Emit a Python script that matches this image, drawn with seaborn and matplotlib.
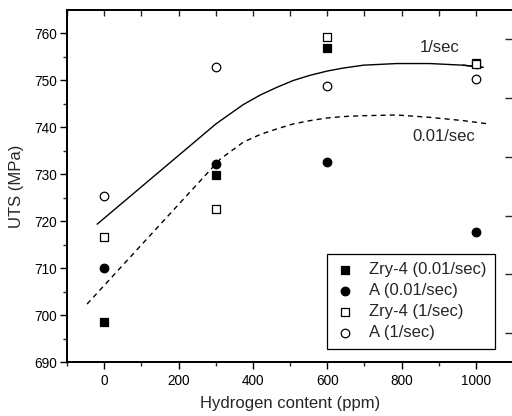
import matplotlib
matplotlib.use("Agg")
import matplotlib.pyplot as plt
import seaborn as sns
import pandas as pd
import numpy as np

# ---- data ----
hydrogen = [0, 300, 600, 1000]
zry4_slow = [698.5, 729.9, 757.0, 753.7]
a_slow = [710.0, 732.3, 732.6, 717.8]
zry4_fast = [716.6, 722.7, 759.3, 753.5]
a_fast = [725.5, 752.8, 748.9, 750.4]
series_names = ["Zry-4 (0.01/sec)", "A (0.01/sec)", "Zry-4 (1/sec)", "A (1/sec)"]

# guide curves
fast_curve_x = [-19, 300, 330, 375, 420, 465, 509, 554, 600, 640, 697, 787, 876, 966, 1020]
fast_curve_y = [719.4, 740.7, 742.4, 744.9, 746.9, 748.55, 750.0, 751.1, 752.0, 752.6, 753.25, 753.6, 753.6, 753.25, 752.8]
slow_curve_x = [-46, 300, 313, 375, 420, 465, 509, 554, 599, 640, 697, 787, 876, 966, 1029]
slow_curve_y = [702.4, 732.2, 733.3, 736.9, 738.5, 739.7, 740.75, 741.45, 742.0, 742.3, 742.5, 742.65, 742.15, 741.45, 740.8]

xticks = [0, 200, 400, 600, 800, 1000]
yticks = [690, 700, 710, 720, 730, 740, 750, 760]

sns.set_theme(style="ticks")
plt.rcParams["font.family"] = ["Liberation Sans", "DejaVu Sans"]

fig = plt.figure(figsize=(5.12, 4.16), dpi=100)
ax = fig.add_axes([67 / 512, 1 - 362.3 / 416, 446 / 512, 352.3 / 416])

rows = []
for name, vals in zip(series_names, [zry4_slow, a_slow, zry4_fast, a_fast]):
    for h, v in zip(hydrogen, vals):
        rows.append({"Hydrogen": h, "UTS": v, "series": name})
df = pd.DataFrame(rows)

curves = pd.DataFrame({
    "x": fast_curve_x + slow_curve_x,
    "y": fast_curve_y + slow_curve_y,
    "rate": ["1/sec"] * len(fast_curve_x) + ["0.01/sec"] * len(slow_curve_x),
})
sns.lineplot(data=curves[curves.rate == "1/sec"], x="x", y="y", sort=False,
             color="black", lw=1.0, ax=ax, legend=False, estimator=None)
sns.lineplot(data=curves[curves.rate == "0.01/sec"], x="x", y="y", sort=False,
             color="black", lw=1.0, ax=ax, legend=False, estimator=None,
             linestyle=(0, (3.6, 3.0)))
# arrow head at the end of the solid curve
ax.annotate("", xy=(fast_curve_x[-1], fast_curve_y[-1]),
            xytext=(fast_curve_x[-2], fast_curve_y[-2]),
            arrowprops=dict(arrowstyle="-|>", color="black", lw=1.0,
                            mutation_scale=8, shrinkA=0, shrinkB=0))

markers = {"Zry-4 (0.01/sec)": "s", "A (0.01/sec)": "o",
           "Zry-4 (1/sec)": "s", "A (1/sec)": "o"}
for name in series_names:
    sub = df[df.series == name]
    filled = "0.01" in name
    size = 38 if name[0] == "A" else 32
    sns.scatterplot(data=sub, x="Hydrogen", y="UTS", marker=markers[name],
                    s=size, color="black" if filled else "white",
                    edgecolor="black", linewidth=0.9, ax=ax, label=name,
                    zorder=3)

ax.set_xlim(-100, 1100)
ax.set_ylim(690, 765)
ax.set_xticks(xticks)
ax.set_yticks(yticks)
ax.set_xticks([-100, 100, 300, 500, 700, 900, 1100], minor=True)
ax.set_yticks(np.arange(695, 765, 10), minor=True)
ax.tick_params(axis="both", which="major", direction="out", length=5, width=1.0,
               labelsize=9.8, colors="black")
ax.tick_params(axis="x", which="major", pad=3.5)
ax.tick_params(axis="y", which="major", pad=2.5)
ax.tick_params(axis="both", which="minor", direction="out", length=3, width=1.0)
ax.set_xlabel("Hydrogen content (ppm)", fontsize=12, labelpad=6)
ax.set_ylabel("UTS (MPa)", fontsize=12, labelpad=7)
for sp in ax.spines.values():
    sp.set_visible(True)
    sp.set_linewidth(1.1)
    sp.set_color("black")

# top axis: inward ticks
axt = ax.twiny()
axt.set_xlim(ax.get_xlim())
axt.set_xticks(list(range(-100, 1101, 100)))
axt.tick_params(axis="x", direction="in", length=4.5, width=1.0, labeltop=False)
# right axis: inward ticks
axr = ax.twinx()
axr.set_ylim(0, 6)
axr.set_yticks([0.5, 1.5, 2.5, 3.5, 4.5, 5.5])
axr.tick_params(axis="y", direction="in", length=5.5, width=1.0, labelright=False)
for a in (axt, axr):
    for sp in a.spines.values():
        sp.set_linewidth(1.1)
        sp.set_color("black")

ax.text(903, 757.1, "1/sec", fontsize=12, ha="center", va="center")
ax.text(914, 738.1, "0.01/sec", fontsize=12, ha="center", va="center")

leg = ax.legend(loc="upper left", bbox_to_anchor=(0.583, 0.307), frameon=True,
                fancybox=False, edgecolor="black", framealpha=1, fontsize=12,
                handletextpad=0.8, borderpad=0.5, labelspacing=0.36,
                handlelength=1.2, borderaxespad=0)
leg.get_frame().set_linewidth(0.9)

fig.savefig("out.png", dpi=100)
